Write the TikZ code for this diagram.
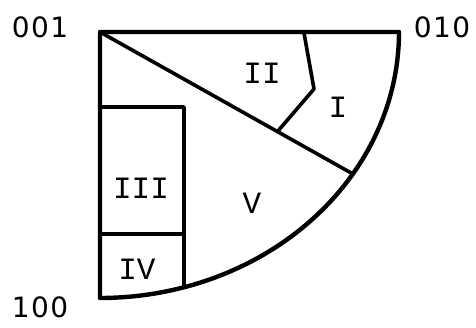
\documentclass[tikz,border=0pt]{standalone}
\usepackage{fontspec}
\newfontfamily\digitfont[LetterSpace=5]{DejaVu Sans}
\newfontfamily\romanfont{Liberation Mono}
\begin{document}
\begin{tikzpicture}[x=1pt,y=-1pt,
  outer/.style={line width=4.4pt,line join=round,line cap=round},
  inner/.style={line width=3.6pt,line join=round,line cap=round},
  corner/.style={font=\digitfont\fontsize{28}{28}\selectfont,inner sep=0pt},
  region/.style={font=\romanfont\fontsize{31}{31}\selectfont,inner sep=0pt}]
\useasboundingbox (0,0) rectangle (476,327);
% outer boundary
\draw[outer] (100,297) -- (100,32) -- (399,32)
  plot[domain=0:90,samples=80] ({100+299*cos(\x)},{32+266*sin(\x)});
% diagonal
\coordinate (d1) at (100,32);
\coordinate (d2) at (353,174);
\draw[inner] (d1) -- (d2);
% I / II divider
\draw[inner] (304,33) -- (314,89) -- (278,131);
% III / IV box
\draw[inner] (100,107) -- (184,107) -- (184,287);
\draw[inner] (100,234) -- (184,234);
% labels
\node[corner] (c001) at (40,27) {001};
\node[corner] (c010) at (442,27) {010};
\node[corner,anchor=base] (c100) at (40,317) {100};
\node[region] (rI) at (338,107) {I};
\node[region] (rII) at (262,73) {II};
\node[region] (rIII) at (141,188) {III};
\node[region] (rIV) at (137,269) {IV};
\node[region] (rV) at (252,203) {V};
\end{tikzpicture}
\end{document}
